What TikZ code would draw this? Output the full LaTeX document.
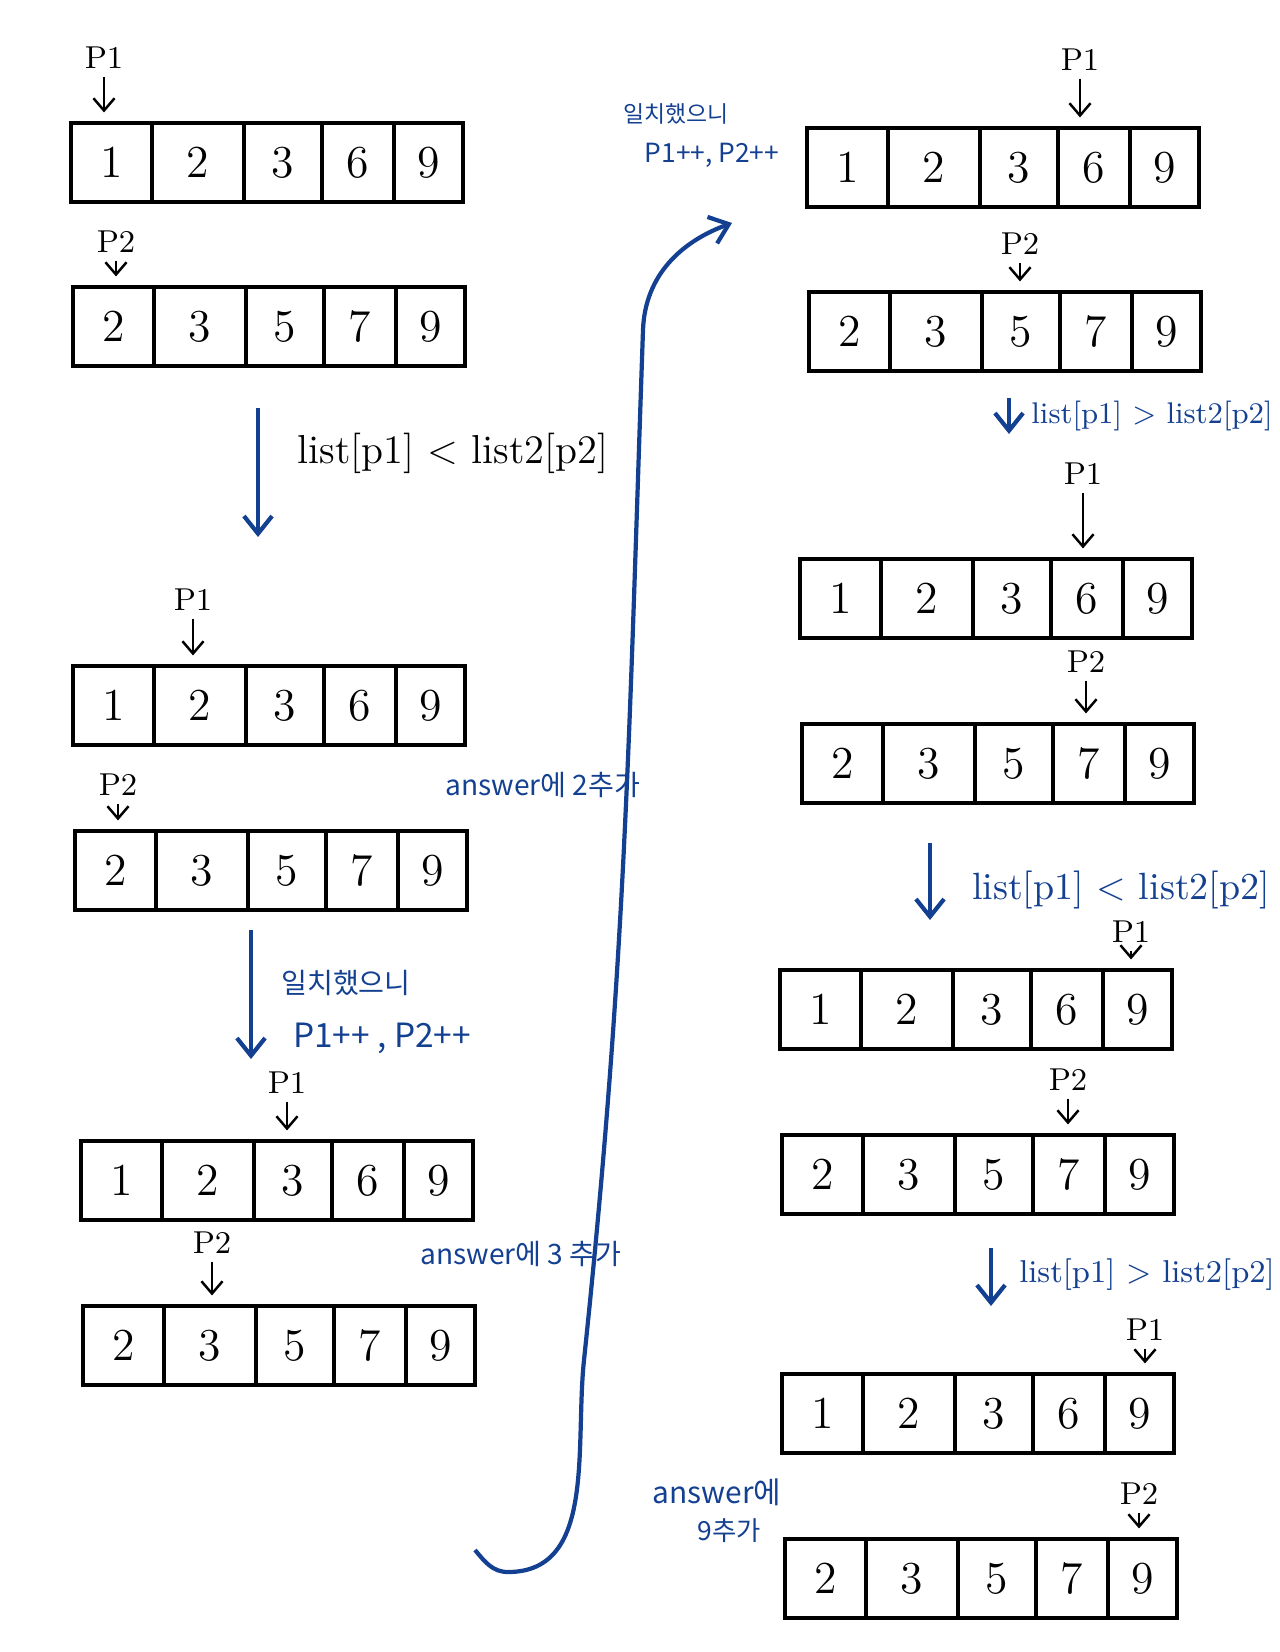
\documentclass[tikz,border=0pt]{standalone}
\usepackage{fontspec}
\newfontfamily\kr{Noto Sans CJK KR}
\usetikzlibrary{arrows.meta,positioning}
\definecolor{pen}{RGB}{20,64,145}

\tikzset{
  cell/.style={draw, line width=0.9pt, inner sep=0pt, outer sep=0pt, minimum height=0.79cm, font=\fontsize{13}{15}\selectfont},
  ptrlbl/.style={inner sep=1pt, font=\fontsize{9}{11}\selectfont},
  ptr/.style={-{Straight Barb[length=3.5pt,width=6pt]}, line width=0.7pt, shorten <=1pt, shorten >=3pt},
  flow/.style={pen, line width=1.2pt, -{Straight Barb[length=5pt,width=8pt]}},
  note/.style={pen, inner sep=0pt},
  cond/.style={inner sep=0pt},
}

% #1 name, (#2,#3) top left corner, #4..#8 values
\newcommand{\drawlist}[8]{%
  \foreach \a/\b/\v [count=\i] in {0/81/#4,81/173/#5,173/251/#6,251/323/#7,323/392/#8}{%
    \pgfmathsetmacro\w{(\b-\a)/100}
    \node[cell, minimum width=\w cm] (#1-\i) at ({#2+(\a+\b)/2},{-#3-39.5}) {\v};
  }%
}

\begin{document}
\begin{tikzpicture}[x=0.01cm, y=0.01cm]
\useasboundingbox (0,0) rectangle (1280,-1652);

\drawlist{a1}{71}{123}{1}{2}{3}{6}{9}
\drawlist{b1}{73}{287}{2}{3}{5}{7}{9}
\drawlist{a2}{73}{666}{1}{2}{3}{6}{9}
\drawlist{b2}{75}{831}{2}{3}{5}{7}{9}
\drawlist{a3}{81}{1141}{1}{2}{3}{6}{9}
\drawlist{b3}{83}{1306}{2}{3}{5}{7}{9}

\drawlist{a4}{807}{128}{1}{2}{3}{6}{9}
\drawlist{b4}{809}{292}{2}{3}{5}{7}{9}
\drawlist{a5}{800}{559}{1}{2}{3}{6}{9}
\drawlist{b5}{802}{724}{2}{3}{5}{7}{9}
\drawlist{a6}{780}{970}{1}{2}{3}{6}{9}
\drawlist{b6}{782}{1135}{2}{3}{5}{7}{9}
\drawlist{a7}{782}{1374}{1}{2}{3}{6}{9}
\drawlist{b7}{785}{1539}{2}{3}{5}{7}{9}

\node[ptrlbl] (pa1) at (104,-58) {P1};
\node[ptrlbl] (pb1) at (116,-242) {P2};
\node[ptrlbl] (pa2) at (193,-600) {P1};
\node[ptrlbl] (pb2) at (118,-785) {P2};
\node[ptrlbl] (pa3) at (287,-1083) {P1};
\node[ptrlbl] (pb3) at (212,-1243) {P2};
\node[ptrlbl] (pa4) at (1080,-60) {P1};
\node[ptrlbl] (pb4) at (1020,-244) {P2};
\node[ptrlbl] (pa5) at (1083,-474) {P1};
\node[ptrlbl] (pb5) at (1086,-662) {P2};
\node[ptrlbl] (pa6) at (1131,-932) {P1};
\node[ptrlbl] (pb6) at (1068,-1080) {P2};
\node[ptrlbl] (pa7) at (1145,-1330) {P1};
\node[ptrlbl] (pb7) at (1139,-1494) {P2};

\draw[ptr] (pa1) -- (pa1 |- a1-1.north);
\draw[ptr] (pb1) -- (pb1 |- b1-1.north);
\draw[ptr] (pa2) -- (pa2 |- a2-2.north);
\draw[ptr] (pb2) -- (pb2 |- b2-1.north);
\draw[ptr] (pa3) -- (pa3 |- a3-3.north);
\draw[ptr] (pb3) -- (pb3 |- b3-2.north);
\draw[ptr] (pa4) -- (pa4 |- a4-4.north);
\draw[ptr] (pb4) -- (pb4 |- b4-3.north);
\draw[ptr] (pa5) -- (pa5 |- a5-4.north);
\draw[ptr] (pb5) -- (pb5 |- b5-4.north);
\draw[ptr] (pa6) -- (pa6 |- a6-5.north);
\draw[ptr] (pb6) -- (pb6 |- b6-4.north);
\draw[ptr] (pa7) -- (pa7 |- a7-5.north);
\draw[ptr] (pb7) -- (pb7 |- b7-5.north);

\coordinate (f1s) at (258,-408);
\coordinate (f1e) at (258,-537);
\coordinate (f2s) at (251,-930);
\coordinate (f2e) at (251,-1059);
\coordinate (f3s) at (1009,-398);
\coordinate (f3e) at (1009,-434);
\coordinate (f4s) at (930,-843);
\coordinate (f4e) at (930,-920);
\coordinate (f5s) at (991,-1248);
\coordinate (f5e) at (991,-1306);
\draw[flow] (f1s) -- (f1e);
\draw[flow] (f2s) -- (f2e);
\draw[flow] (f3s) -- (f3e);
\draw[flow] (f4s) -- (f4e);
\draw[flow] (f5s) -- (f5e);

\node[cond, font=\fontsize{11.5}{13}\selectfont] (c1) at (453,-453) {list[p1] < list2[p2]};
\node[cond, pen, font=\fontsize{8.5}{10}\selectfont] (c2) at (1152,-416) {list[p1] > list2[p2]};
\node[cond, pen, font=\fontsize{10.8}{12}\selectfont] (c3) at (1121,-890) {list[p1] < list2[p2]};
\node[cond, pen, font=\fontsize{9}{11}\selectfont] (c4) at (1147,-1275) {list[p1] > list2[p2]};

\node[note, font=\kr\fontsize{8}{10}\selectfont] (ans2) at (543,-785) {answer에 2추가};
\node[note, font=\kr\fontsize{8}{10}\selectfont] (ans3) at (521,-1254) {answer에 3 추가};
\node[note, font=\kr\fontsize{8}{10}\selectfont] (m1a) at (346,-983) {일치했으니};
\node[note, font=\kr\fontsize{9.5}{11}\selectfont] (m1b) at (382,-1038) {P1++ , P2++};
\node[note, font=\kr\fontsize{6.5}{8}\selectfont] (m2a) at (676,-114) {일치했으니};
\node[note, font=\kr\fontsize{7.5}{9}\selectfont] (m2b) at (712,-155) {P1++, P2++};
\node[note, font=\kr\fontsize{8.5}{10}\selectfont] (ans9a) at (717,-1492) {answer에};
\node[note, font=\kr\fontsize{7.5}{9}\selectfont] (ans9b) at (729,-1531) {9추가};

\coordinate (jumpS) at (475,-1550);
\coordinate (jumpB) at (508,-1572);
\coordinate (jumpM) at (584,-1360);
\coordinate (jumpT) at (643,-330);
\coordinate (jumpE) at (732,-223);
\draw[flow] (jumpS) to[out=-50,in=180] (jumpB) to[out=0,in=-96] (jumpM)
  to[out=84,in=-92] (jumpT) to[out=88,in=200] (jumpE);

\end{tikzpicture}
\end{document}
